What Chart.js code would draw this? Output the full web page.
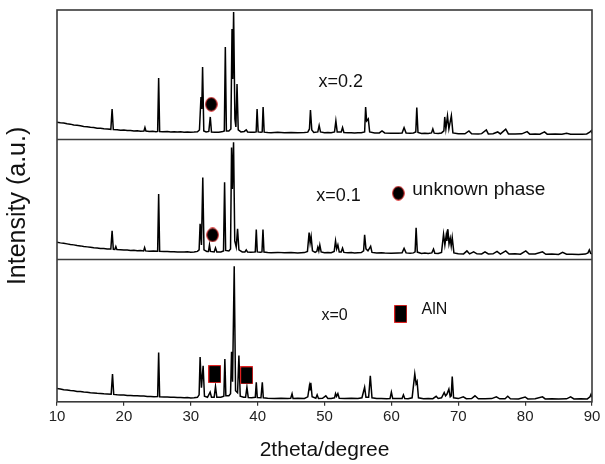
<!DOCTYPE html>
<html>
<head>
<meta charset="utf-8">
<script src="https://cdn.jsdelivr.net/npm/chart.js@4.4.0/dist/chart.umd.min.js"></script>
<style>
html,body{margin:0;padding:0;background:#fff;}
#wrap{width:605px;height:464px;}
</style>
</head>
<body>
<div id="wrap"><canvas id="xrd" width="605" height="464"></canvas></div>
<script>
/* XRD patterns x=0.2 / x=0.1 / x=0 – stacked panels */

/* ---------- Data (2theta, intensity a.u.) ---------- */
const pattern_x02 = [[10,16.8],[10.5,16.2],[11,15.9],[11.5,15.1],[12,14.8],[12.5,14.0],[13,13.6],[13.5,13.1],[14,12.5],[14.5,12.2],[15,11.6],[15.5,11.4],[16,10.8],[16.5,10.6],[17,10.1],[17.5,9.9],[18.05,9.6],[18.24,30],[18.42,9.5],[19,9.3],[19.5,8.8],[20,8.9],[20.5,8.4],[21,8.5],[21.5,8.0],[22,8.1],[22.5,7.7],[23.0,8.0],[23.15,11.5],[23.3,7.9],[23.8,7.5],[24.3,7.6],[24.8,7.3],[25.05,7.5],[25.2,61],[25.35,7.4],[25.8,7.2],[26.5,7.4],[27,7.0],[27.5,7.2],[28,6.9],[28.5,7.1],[29,6.8],[29.5,7.0],[30,6.8],[30.5,6.9],[31.0,7.2],[31.3,9],[31.53,42],[31.65,30],[31.77,72],[31.95,8],[32.3,7],[32.7,7.5],[32.92,22],[33.1,7],[33.6,6.8],[34.2,6.8],[34.8,7.5],[35.02,8],[35.17,92],[35.33,8],[35.7,8],[36.0,10],[36.17,110],[36.28,60],[36.41,127],[36.6,20],[36.75,12],[36.92,55],[37.1,9],[37.5,7],[38.0,7.5],[38.3,9],[38.5,7],[39.0,6.8],[39.5,6.7],[39.78,7],[39.92,30],[40.08,7],[40.5,6.6],[40.68,7],[40.82,32],[40.98,6.8],[41.5,6.5],[42,6.3],[43,6.6],[44,6.2],[45,6.4],[46,6.2],[47,6.4],[47.5,6.8],[47.75,10],[47.9,29],[48.1,9],[48.4,6.5],[49.0,7],[49.2,13.5],[49.4,7],[50,6.2],[50.5,6.4],[51,6.1],[51.5,7],[51.7,18],[51.9,7],[52.5,7],[52.7,11.5],[52.9,6.5],[53.5,6.2],[54,6.3],[54.5,6],[55,6.2],[55.5,6.1],[56.0,7],[56.15,32],[56.3,18],[56.55,20],[56.75,7],[57.5,6],[58.2,6],[58.6,8],[59,6],[60,5.8],[61,5.7],[61.6,6],[61.9,11.3],[62.2,6],[62.8,5.6],[63.3,6],[63.65,7],[63.8,31.3],[63.98,6.5],[64.5,5.5],[65,5.8],[65.5,5.4],[66,6],[66.2,10],[66.4,5.8],[67,5.4],[67.5,6],[67.85,8],[67.98,22],[68.15,10],[68.39,23],[68.6,10],[68.97,23.3],[69.2,6],[70,5.3],[71,5.1],[71.6,8],[72,5.2],[73,5.0],[73.5,5.3],[74.2,9],[74.5,5],[75.2,5.2],[75.9,7],[76.3,5],[77.1,9.7],[77.5,5],[78.5,4.9],[79.5,5.1],[80.3,7.3],[80.7,4.8],[81.5,5],[82.2,4.7],[82.9,7],[83.3,4.8],[84.5,4.9],[85.5,4.6],[86.2,5.7],[86.8,4.6],[87.5,4.8],[88.5,4.6],[89.2,5],[89.6,6.5],[89.9,8.3],[90,5.5]];

const pattern_x01 = [[10,16.7],[10.5,16.0],[11,15.6],[11.5,15.0],[12,14.4],[12.5,14.0],[13,13.3],[13.5,13.0],[14,12.4],[14.5,12.0],[15,11.6],[15.5,11.2],[16,10.9],[16.5,10.5],[17,10.3],[17.5,10.0],[18.05,9.8],[18.24,28],[18.42,9.6],[18.65,9.5],[18.8,12.3],[18.95,9.4],[19.5,9.2],[20,8.8],[20.5,8.9],[21,8.5],[21.5,8.6],[22,8.2],[22.5,8.3],[22.95,8.0],[23.1,11.3],[23.25,8.0],[23.8,7.6],[24.4,7.8],[25.05,7.6],[25.2,65],[25.35,7.5],[26,7.3],[26.5,7.4],[27,7.1],[27.5,7.2],[28,6.9],[28.5,7.0],[29,6.8],[29.5,7.0],[30,6.7],[30.5,6.9],[31.0,7.5],[31.25,9],[31.4,35],[31.6,14],[31.8,81.3],[31.98,9],[32.4,7.5],[32.65,7.5],[32.8,14],[32.95,7.5],[33.5,7],[33.7,11],[33.9,7],[34.5,7],[34.9,8],[35.06,76.7],[35.22,8.5],[35.7,8],[35.95,10],[36.1,111.3],[36.22,70],[36.4,116.7],[36.58,18],[36.8,12],[37.0,30],[37.2,9],[37.7,7],[38.1,7],[38.3,9],[38.5,6.8],[39.0,6.6],[39.5,6.8],[39.65,7],[39.8,29.3],[39.95,7],[40.4,6.6],[40.65,7],[40.8,29.3],[40.95,6.8],[41.5,6.4],[42,6.2],[43,6.5],[44,6.1],[45,6.3],[46,6.0],[47,6.3],[47.45,7.5],[47.7,26.3],[47.85,16],[48.0,22.3],[48.2,8],[48.6,6.5],[48.85,7.5],[49.0,11.7],[49.15,8],[49.3,14],[49.5,7],[50,6.2],[50.5,6.3],[51,6.1],[51.45,7.5],[51.65,18],[51.82,10],[52.0,14],[52.2,7],[52.5,7],[52.7,10.7],[52.9,6.5],[53.5,6.1],[54,6.3],[54.5,6.0],[55,6.2],[55.5,6.3],[55.85,8],[56.0,24],[56.2,10],[56.5,8],[56.9,12.5],[57.1,6.5],[57.8,6],[58.5,6.2],[59,5.9],[60,5.7],[61,5.9],[61.6,6],[61.9,10.5],[62.2,6],[62.8,5.6],[63.3,6],[63.55,7],[63.7,31],[63.88,6.8],[64.5,5.5],[65,5.8],[65.5,5.3],[66.05,6],[66.3,9.7],[66.5,5.6],[67,5.5],[67.5,6.5],[67.8,24.7],[68.0,14],[68.2,23.7],[68.3,18],[68.45,29.7],[68.62,15],[68.8,20.7],[68.95,13],[69.1,21.3],[69.35,6],[70,5.2],[70.8,5],[71.3,8],[71.7,5],[72.3,7],[72.8,5],[73.5,4.9],[74.0,7],[74.5,4.9],[75.2,5],[75.8,7.5],[76.3,4.8],[77.1,8],[77.6,4.8],[78.5,5],[79.3,4.7],[80.1,8],[80.6,4.8],[81.5,4.9],[82.6,7],[83.1,4.6],[84,4.8],[85,4.5],[85.6,6.5],[86.2,4.6],[87,4.7],[88,4.5],[89,4.8],[89.4,6],[89.6,9],[89.8,5.5],[90,5]];

const pattern_x0 = [[10,13.2],[10.5,12.8],[11,12.1],[11.5,11.8],[12,11.2],[12.5,11.0],[13,10.4],[13.5,10.3],[14,9.8],[14.5,9.6],[15,9.1],[15.5,8.9],[16,8.5],[16.5,8.4],[17,8.0],[17.5,7.9],[18.1,7.6],[18.3,27.7],[18.48,7.4],[19,7.1],[19.5,6.9],[20,6.8],[20.5,6.4],[21,6.4],[21.5,6.0],[22,6.1],[22.5,5.7],[23,5.8],[23.5,5.4],[24,5.4],[24.5,5.1],[25.05,5.2],[25.2,49.3],[25.35,5],[26,4.8],[26.5,4.9],[27,4.5],[27.5,4.6],[28,4.2],[28.5,4.4],[29,4.0],[29.5,4.2],[30,3.8],[30.5,4.0],[31.0,4.5],[31.25,7],[31.4,44.7],[31.6,14],[31.85,36],[32.05,5.5],[32.5,4.5],[32.9,9.7],[33.1,4.5],[33.5,4.5],[33.7,15.3],[33.9,4.5],[34.5,4.6],[34.95,5.5],[35.1,42.7],[35.25,6],[35.7,6],[35.95,8],[36.1,50],[36.25,20],[36.5,135.7],[36.7,11],[37.0,9],[37.2,46.3],[37.4,5.5],[37.9,4.5],[38.2,4.6],[38.4,14.5],[38.6,4.2],[39.1,4],[39.65,4.5],[39.8,19.5],[39.95,4.3],[40.5,4],[40.7,19.5],[40.85,4],[41.5,3.6],[42.5,3.3],[43.5,3.6],[44.5,3.2],[44.95,3.5],[45.15,8],[45.3,3.3],[46,3.5],[47,3.3],[47.5,5],[47.75,16],[47.85,12],[47.95,19],[48.15,5],[48.7,3.6],[48.9,7],[49.1,3.4],[49.7,3.5],[50.2,6],[50.5,3.3],[51,3.4],[51.5,4],[51.65,8.2],[51.8,5.5],[52.0,8.2],[52.2,3.6],[53,3.3],[54,3.5],[55,3.2],[55.6,4],[56.0,14.5],[56.2,4.5],[56.6,4.5],[56.85,26],[57.1,4],[57.8,3.3],[58.5,3.4],[59.3,3.1],[59.8,3.3],[60.0,9.7],[60.2,3.2],[61,3.3],[61.6,3.4],[61.8,7],[62.0,3.3],[62.5,3.1],[63.1,4],[63.5,28],[63.7,18],[63.85,20.3],[64.05,4],[64.8,3.1],[65.5,3.3],[66.2,3.1],[66.7,5.5],[67.0,3.4],[67.5,4],[67.9,9.3],[68.1,6],[68.3,7.5],[68.6,12.7],[68.8,5],[68.95,6],[69.1,25.3],[69.3,4],[70,3.2],[70.75,5],[71.2,3.1],[72,3.2],[72.5,6],[73,3.1],[74,3.0],[75,3.2],[75.7,5],[76.2,3.0],[77,3.1],[77.4,5.5],[77.8,3.0],[79,2.9],[80.0,4.8],[80.4,2.9],[81.5,3.0],[82.6,5],[83,2.9],[84,3.0],[85,2.8],[86.2,3.0],[86.8,5],[87.3,2.9],[88.3,3.0],[89.3,2.9],[89.7,5],[89.85,7.5],[90,4.5]];

/* phase markers (2theta, intensity) */
const unknownTop = [[33.07,34.7]];
const unknownMid = [[33.27,24],[61.04,65.7]];
const alnBottom  = [[33.6,27.7],[38.36,26.5],[61.4,88]];

const sampleLabels = ['x=0.2','x=0.1','x=0'];
const panelMax = [129,120,143];

/* ---------- Marker images ---------- */
function markerCanvas(w,h,shape){
  const c=document.createElement('canvas'); c.width=w; c.height=h;
  const g=c.getContext('2d');
  g.fillStyle='#000'; g.strokeStyle='#e02020'; g.lineWidth=1;
  g.beginPath();
  if(shape==='circle') g.ellipse(w/2,h/2,w/2-0.7,h/2-0.7,0,0,Math.PI*2);
  else g.rect(0.5,0.5,w-1,h-1);
  g.fill(); g.stroke();
  return c;
}
const dotImg = markerCanvas(13,15,'circle');
const boxImg = markerCanvas(13,18,'rect');

/* ---------- Helpers ---------- */
const toXY = arr => arr.map(p=>({x:p[0],y:p[1]}));
function lineSet(pts,axis){
  return {data:toXY(pts),yAxisID:axis,showLine:true,borderColor:'#000',borderWidth:1.5,
          pointRadius:0,fill:false,tension:0,order:1};
}
function markSet(pts,axis,img){
  return {data:toXY(pts),yAxisID:axis,showLine:false,pointStyle:img,pointRadius:7,order:-1};
}
function yAxis(max,w,weight){
  return {type:'linear',position:'left',stack:'xrd',stackWeight:w,weight,min:0,max,
          ticks:{display:false},grid:{display:false,drawTicks:false},border:{display:false}};
}

/* ---------- Frames, titles, labels ---------- */
const FONT='"Liberation Sans", Arial, sans-serif';
const textNotes = [
  {t:sampleLabels[0], x:52.44, y:56.7, axis:'y0', size:18, align:'center'},
  {t:sampleLabels[1], x:52.1,  y:63.3, axis:'y1', size:18, align:'center'},
  {t:sampleLabels[2], x:51.5,  y:86.3, axis:'y2', size:16, align:'center'},
  {t:'unknown phase', x:63.13, y:69,   axis:'y1', size:19, align:'left'},
  {t:'AlN',           x:64.5,  y:92,   axis:'y2', size:16, align:'left'}
];
const framePlugin = {
  id:'frames',
  afterDatasetsDraw(chart){
    const {ctx,chartArea:a,scales} = chart;
    ctx.save();
    ctx.strokeStyle='#3a3a3a'; ctx.lineWidth=1.6;
    ctx.strokeRect(a.left,a.top,a.right-a.left,a.bottom-a.top);
    ['y0','y1'].forEach(id=>{
      const yb=Math.round(scales[id].bottom)+0.5;
      ctx.beginPath(); ctx.moveTo(a.left,yb); ctx.lineTo(a.right,yb); ctx.stroke();
    });
    /* panel labels */
    ctx.fillStyle='#111'; ctx.textBaseline='middle';
    textNotes.forEach(n=>{
      ctx.font=`${n.size}px ${FONT}`; ctx.textAlign=n.align;
      ctx.fillText(n.t, scales.x.getPixelForValue(n.x), scales[n.axis].getPixelForValue(n.y));
    });
    /* y title */
    ctx.translate(18,(a.top+a.bottom)/2);
    ctx.rotate(-Math.PI/2);
    ctx.textAlign='center'; ctx.font=`25px ${FONT}`;
    ctx.fillText('Intensity (a.u.)',0,0);
    ctx.restore();
  }
};

/* ---------- Render Chart ---------- */
new Chart(document.getElementById('xrd'),{
  type:'scatter',
  data:{datasets:[
    lineSet(pattern_x02,'y0'),
    lineSet(pattern_x01,'y1'),
    lineSet(pattern_x0,'y2'),
    markSet(unknownTop,'y0',dotImg),
    markSet(unknownMid,'y1',dotImg),
    markSet(alnBottom,'y2',boxImg)
  ]},
  options:{
    responsive:false,animation:false,
    layout:{padding:{left:57,right:13,top:10,bottom:1}},
    plugins:{legend:{display:false},tooltip:{enabled:false}},
    scales:{
      x:{type:'linear',min:10,max:90,
         ticks:{stepSize:10,color:'#222',padding:2,font:{size:15,family:FONT}},
         grid:{drawOnChartArea:false,drawTicks:true,tickLength:4,color:'#333',lineWidth:1.2},
         border:{display:false},
         title:{display:true,text:'2theta/degree',color:'#111',font:{size:21,family:FONT},padding:{top:10,bottom:0}}},
      y2:yAxis(panelMax[2],143,1),
      y1:yAxis(panelMax[1],120,2),
      y0:yAxis(panelMax[0],129,3)
    }
  },
  plugins:[framePlugin]
});
</script>
</body>
</html>
